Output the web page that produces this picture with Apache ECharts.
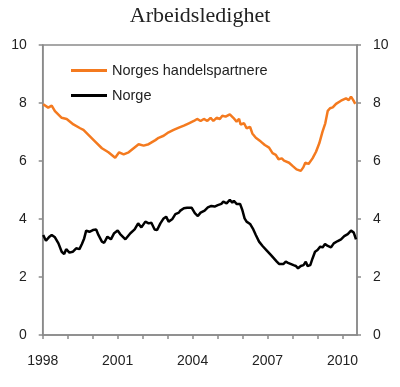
<!DOCTYPE html>
<html>
<head>
<meta charset="utf-8">
<script src="https://cdn.jsdelivr.net/npm/echarts@6/dist/echarts.min.js"></script>
<style>
html,body{margin:0;padding:0;background:#fff;}
#chart{width:400px;height:387px;}
</style>
</head>
<body>
<div id="chart"></div>
<script>
const titleText = 'Arbeidsledighet';
const seriesNames = ['Norges handelspartnere', 'Norge'];
const yearTicks = [1998,1999,2000,2001,2002,2003,2004,2005,2006,2007,2008,2009,2010];
const yearLabels = [1998,2001,2004,2007,2010];
const yTicks = [0,2,4,6,8,10];

const partnerT = [1998.02,1998.22,1998.36,1998.49,1998.56,1998.76,1998.96,1999.23,1999.50,1999.63,1999.90,2000.10,2000.37,2000.63,2000.90,2000.98,2001.06,2001.24,2001.44,2001.64,2001.84,2002.04,2002.24,2002.51,2002.64,2002.84,2003.04,2003.24,2003.45,2003.65,2003.85,2004.05,2004.18,2004.32,2004.45,2004.59,2004.72,2004.83,2004.96,2005.09,2005.19,2005.32,2005.49,2005.63,2005.76,2005.86,2005.92,2006.06,2006.16,2006.30,2006.39,2006.53,2006.73,2006.89,2007.06,2007.20,2007.33,2007.44,2007.57,2007.66,2007.86,2008.00,2008.16,2008.33,2008.43,2008.51,2008.64,2008.80,2008.94,2009.07,2009.20,2009.31,2009.41,2009.50,2009.61,2009.74,2009.94,2010.14,2010.25,2010.34,2010.43,2010.51];
const partnerV = [7.96,7.84,7.91,7.72,7.76,7.49,7.45,7.26,7.13,7.07,6.84,6.67,6.44,6.30,6.11,6.05,6.30,6.23,6.30,6.44,6.58,6.53,6.58,6.72,6.80,6.87,6.99,7.07,7.15,7.22,7.30,7.38,7.45,7.38,7.45,7.38,7.49,7.38,7.49,7.45,7.56,7.53,7.61,7.49,7.36,7.45,7.26,7.30,7.13,7.18,6.95,6.80,6.67,6.55,6.46,6.27,6.21,6.06,6.09,6.01,5.94,5.83,5.71,5.66,5.78,5.94,5.90,6.09,6.32,6.61,7.01,7.30,7.73,7.82,7.85,7.97,8.08,8.16,8.10,8.22,8.10,7.97];

const norgeT = [1998.02,1998.13,1998.27,1998.36,1998.49,1998.63,1998.76,1998.86,1998.94,1999.07,1999.20,1999.34,1999.47,1999.57,1999.66,1999.74,1999.87,2000.01,2000.14,2000.23,2000.37,2000.46,2000.59,2000.73,2000.86,2001.00,2001.10,2001.17,2001.31,2001.51,2001.68,2001.82,2001.95,2002.11,2002.24,2002.35,2002.48,2002.58,2002.71,2002.84,2002.94,2003.04,2003.18,2003.31,2003.45,2003.51,2003.65,2003.78,2003.96,2004.09,2004.21,2004.32,2004.48,2004.61,2004.75,2004.88,2005.01,2005.15,2005.23,2005.36,2005.49,2005.59,2005.65,2005.76,2005.90,2005.99,2006.08,2006.16,2006.30,2006.43,2006.53,2006.66,2006.80,2006.97,2007.13,2007.37,2007.46,2007.64,2007.73,2007.82,2007.90,2008.04,2008.13,2008.22,2008.33,2008.44,2008.53,2008.60,2008.71,2008.80,2008.90,2009.00,2009.11,2009.20,2009.30,2009.41,2009.54,2009.65,2009.81,2009.94,2010.07,2010.21,2010.34,2010.45,2010.54];
const norgeV = [3.45,3.25,3.39,3.45,3.37,3.16,2.87,2.79,2.96,2.84,2.87,2.99,2.96,3.14,3.33,3.60,3.56,3.62,3.64,3.45,3.22,3.18,3.39,3.30,3.51,3.60,3.48,3.45,3.30,3.51,3.64,3.85,3.71,3.91,3.85,3.87,3.64,3.62,3.85,4.02,4.08,3.91,3.99,4.17,4.22,4.29,4.37,4.39,4.39,4.20,4.10,4.22,4.29,4.40,4.45,4.43,4.48,4.52,4.60,4.54,4.66,4.56,4.63,4.52,4.52,4.31,4.02,3.91,3.83,3.64,3.45,3.22,3.07,2.91,2.76,2.53,2.45,2.45,2.53,2.49,2.53,2.41,2.38,2.30,2.38,2.41,2.53,2.38,2.41,2.64,2.87,2.93,3.05,3.02,3.14,3.07,3.02,3.16,3.24,3.30,3.41,3.48,3.60,3.53,3.30];

const xMin = 1998, xMax = 2010.58;
const axisColor = '#8a8a8a';
const textColor = '#222';
const font = 'Liberation Sans';

function pairs(t, v){ return t.map((x,i)=>[x, v[i]]); }

const chart = echarts.init(document.getElementById('chart'), null, {renderer:'canvas'});
const yAxisBase = {
  type:'value', min:0, max:10, interval:2,
  axisLine:{show:true, lineStyle:{color:axisColor, width:1.5}},
  axisTick:{show:true, length:4, inside:false, lineStyle:{color:axisColor, width:1.5}},
  splitLine:{show:false},
  axisLabel:{color:textColor, fontFamily:font, fontSize:14, margin:16}
};
chart.setOption({
  animation:false,
  backgroundColor:'#fff',
  title:{text:titleText, left:'center', top:0,
    textStyle:{fontFamily:'Liberation Serif', fontSize:22, fontWeight:'normal', color:textColor}},
  grid:{left:42.7, right:43, top:45, bottom:52, show:true, borderColor:axisColor, borderWidth:1.5, containLabel:false},
  legend:{
    orient:'vertical', left:71, top:63, padding:0, itemWidth:36, itemHeight:3, itemGap:10,
    icon:'rect', textStyle:{fontFamily:font, fontSize:14.5, color:textColor}, itemStyle:{borderWidth:0},
    data:seriesNames
  },
  xAxis:{
    type:'value', min:xMin, max:xMax,
    axisLine:{show:true, lineStyle:{color:axisColor, width:1.5}},
    axisTick:{show:true, length:4, customValues:yearTicks, lineStyle:{color:axisColor, width:1.5}},
    axisLabel:{customValues:yearLabels, color:textColor, fontFamily:font, fontSize:14, margin:19,
      formatter:(v)=>String(v)},
    splitLine:{show:false}
  },
  yAxis:[
    Object.assign({}, yAxisBase, {position:'left'}),
    Object.assign({}, yAxisBase, {position:'right'})
  ],
  series:[
    {name:seriesNames[0], type:'line', data:pairs(partnerT, partnerV), showSymbol:false, symbol:'none',
      lineStyle:{color:'#F47A1F', width:2.5}, itemStyle:{color:'#F47A1F'}},
    {name:seriesNames[1], type:'line', data:pairs(norgeT, norgeV), showSymbol:false, symbol:'none',
      lineStyle:{color:'#000', width:2.5}, itemStyle:{color:'#000'}}
  ]
});
</script>
</body>
</html>
